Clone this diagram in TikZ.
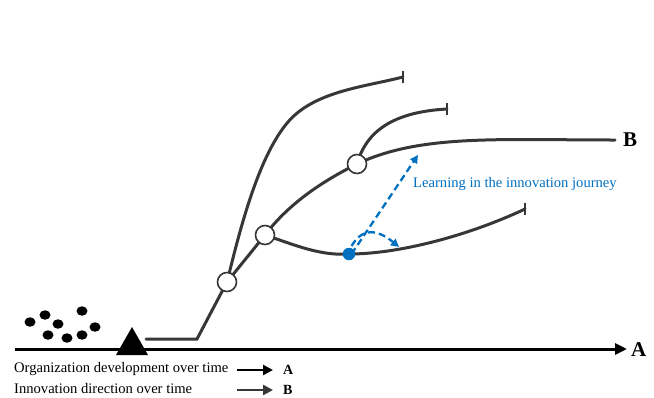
\documentclass[tikz,border=0pt]{standalone}
\usepackage{fontspec}
\setmainfont{Liberation Serif}
\usetikzlibrary{arrows.meta,shapes.geometric}
\definecolor{pathgray}{RGB}{55,55,55}
\definecolor{learnblue}{RGB}{0,112,192}
\tikzset{
  route/.style={draw=pathgray, line width=3pt, line cap=round},
  barline/.style={draw=pathgray, line width=2.4pt},
  junction/.style={circle, draw=pathgray, line width=1.6pt, fill=white, minimum size=19pt, inner sep=0pt},
  blob/.style={ellipse, fill=black, minimum width=11pt, minimum height=9.5pt, inner sep=0pt},
  learn/.style={draw=learnblue, line width=2.3pt, dash pattern=on 7pt off 4pt, -{Triangle[length=8pt,width=8pt]}},
  lbl/.style={font=\fontsize{14.6}{16}\selectfont, anchor=west, inner sep=0pt},
  bigletter/.style={font=\bfseries\fontsize{21}{23}\selectfont, anchor=west, inner sep=0pt},
  legletter/.style={font=\bfseries\fontsize{14}{16}\selectfont, anchor=west, inner sep=0pt},
  legarrow/.style={line width=2.8pt, -{Triangle[length=10pt,width=10pt]}},
}
\begin{document}
\begin{tikzpicture}[x=1pt,y=-1pt]
\useasboundingbox (0,0) rectangle (654,397);
% axis
\coordinate (ax0) at (15,349);
\coordinate (ax1) at (627,349);
\draw[line width=3pt, -{Triangle[length=12pt,width=11pt]}] (ax0) -- (ax1);
\node[bigletter] (Alab) at (631,350) {A};
% dots
\foreach \n/\x/\y in {1/30/322,2/45/315,3/58/324,4/82/311,5/95/327,6/48/335,7/67/338,8/82/335}
  \node[blob] (b\n) at (\x,\y) {};
% triangle
\fill (132,327) -- (148,355) -- (116,355) -- cycle;
% main path
\coordinate (s0) at (146,339);
\coordinate (s1) at (197,339);
\coordinate (c1) at (227,282);
\coordinate (c2) at (265,235);
\coordinate (c3) at (357,164);
\coordinate (d) at (349,254);
\coordinate (bend) at (615,140);
\node[bigletter] (Blab) at (623,140) {B};
\coordinate (e1) at (403,77);
\coordinate (e3) at (447,109);
\coordinate (e2) at (525,209);
\coordinate (m1) at (296,114);
\draw[route] (s0) -- (s1) -- (c1) -- (c2)
  .. controls (290,202) and (325,180) .. (c3)
  .. controls (420,134) and (500,140) .. (bend);
\draw[route] (c1) .. controls (239,234) and (260,144.6) .. (m1)
  .. controls (324,90.2) and (368,86) .. (e1);
\draw[route] (c3) .. controls (366,132) and (392,112) .. (e3);
\draw[route] (c2) .. controls (295,245) and (320,256) .. (d)
  .. controls (400,254) and (470,235) .. (e2);
\draw[barline] ([yshift=-6pt]e1) -- ([yshift=6pt]e1);
\draw[barline] ([yshift=-6pt]e3) -- ([yshift=6pt]e3);
\draw[barline] ([yshift=-6pt]e2) -- ([yshift=6pt]e2);
\node[junction] (j1) at (c1) {};
\node[junction] (j2) at (c2) {};
\node[junction] (j3) at (c3) {};
\node[circle, fill=learnblue, minimum size=12.5pt, inner sep=0pt] (dot) at (d) {};
% learning arrows
\coordinate (t1) at (418,155);
\coordinate (t2) at (399,247);
\draw[learn] ([xshift=2.5pt]dot.center) -- (t1);
\draw[learn] ([xshift=-2pt,yshift=-2pt]dot.center) .. controls (358,226) and (376,228) .. (t2);
\node[lbl, text=learnblue] (learnlab) at (413,184) {Learning in the innovation journey};
% legend
\node[lbl] (leg1) at (14,369) {Organization development over time};
\node[lbl] (leg2) at (14,389) {Innovation direction over time};
\coordinate (la0) at (237,370);
\coordinate (la1) at (273,370);
\coordinate (lb0) at (237,390);
\coordinate (lb1) at (273,390);
\draw[legarrow] (la0) -- (la1);
\draw[legarrow, draw=pathgray, fill=pathgray] (lb0) -- (lb1);
\node[legletter] (legA) at (283,370) {A};
\node[legletter] (legB) at (283,390) {B};
\end{tikzpicture}
\end{document}
